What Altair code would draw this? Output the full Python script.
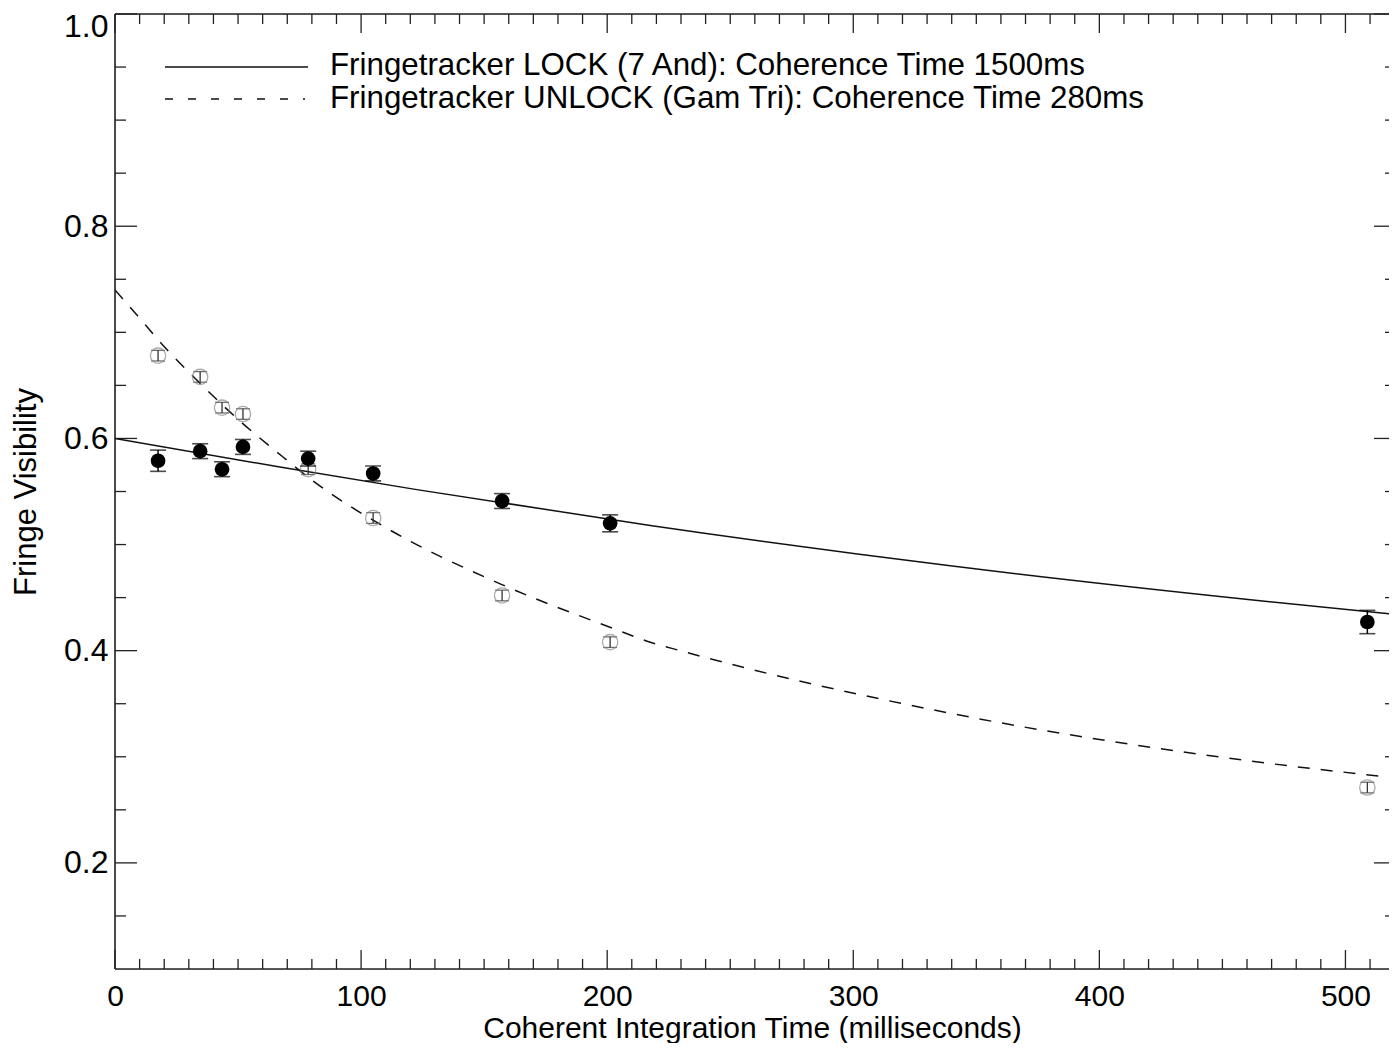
import altair as alt
import pandas as pd

# ---------------- data ----------------
time_ms = [17.5, 34.6, 43.5, 52.0, 78.5, 104.9, 157.3, 201.2, 508.9]

lock_vis = [0.579, 0.588, 0.571, 0.592, 0.581, 0.567, 0.541, 0.520, 0.427]
lock_err = [0.010, 0.007, 0.007, 0.007, 0.007, 0.007, 0.007, 0.008, 0.011]

unlock_vis = [0.678, 0.658, 0.629, 0.623, 0.571, 0.525, 0.452, 0.408, 0.271]
unlock_err = [0.005, 0.005, 0.005, 0.005, 0.005, 0.005, 0.005, 0.005, 0.005]

lock_fit_t = [0, 67, 122, 217.5, 339.4, 461.4, 521]
lock_fit_v = [0.600, 0.573, 0.552, 0.518, 0.480, 0.448, 0.434]

unlock_fit_t = [0, 9, 21, 35, 50, 68, 81, 110, 156.5, 202.4, 217.5, 229.7, 339.4, 461.4, 521]
unlock_fit_v = [0.740, 0.716, 0.684, 0.651, 0.618, 0.583, 0.559, 0.516, 0.463, 0.421, 0.408, 0.400, 0.341, 0.296, 0.280]

x_major = [0, 100, 200, 300, 400, 500]
x_minor = [t for t in range(10, 520, 10) if t % 100 != 0]
y_major = [0.2, 0.4, 0.6, 0.8, 1.0]
y_minor = [0.15, 0.25, 0.3, 0.35, 0.45, 0.5, 0.55, 0.65, 0.7, 0.75, 0.85, 0.9, 0.95]

legend_lock = "Fringetracker LOCK (7 And): Coherence Time 1500ms"
legend_unlock = "Fringetracker UNLOCK (Gam Tri): Coherence Time 280ms"

# ---------------- layout / style ----------------
W, H = 1274, 955
X_MAX = 517.7
FONT = "Liberation Sans"
xs = alt.Scale(domain=[0, X_MAX], nice=False, zero=False)
ys = alt.Scale(domain=[0.1, 1.0], nice=False, zero=False)

pts = pd.DataFrame({"t": time_ms, "lv": lock_vis, "le": lock_err,
                    "uv": unlock_vis, "ue": unlock_err})
lock_fit = pd.DataFrame({"t": lock_fit_t, "v": lock_fit_v})
unlock_fit = pd.DataFrame({"t": unlock_fit_t, "v": unlock_fit_v})

X = lambda f="t": alt.X(f"{f}:Q", scale=xs, axis=None)
Y = lambda f="v": alt.Y(f"{f}:Q", scale=ys, axis=None)

# main axes (labels + titles only)
axis_layer = alt.Chart(lock_fit).mark_line(opacity=0).encode(
    x=alt.X("t:Q", scale=xs, axis=alt.Axis(
        orient="bottom", labelFlush=False,
        values=x_major, format="d", domain=False, ticks=False, grid=False,
        labelFontSize=30, labelFont=FONT, labelColor="black", labelPadding=12,
        title="Coherent Integration Time (milliseconds)", titleFont=FONT,
        titleFontSize=30, titleFontWeight="normal", titleColor="black", titlePadding=2)),
    y=alt.Y("v:Q", scale=ys, axis=alt.Axis(
        orient="left", labelFlush=True, labelFlushOffset=3,
        values=y_major, format=".1f", domain=False, ticks=False, grid=False,
        labelFontSize=32, labelFont=FONT, labelColor="black", labelPadding=7,
        title="Fringe Visibility", titleFont=FONT, titleFontSize=31,
        titleFontWeight="normal", titleColor="black", titlePadding=21)),
)

lock_line = alt.Chart(lock_fit).mark_line(
    color="#111", strokeWidth=1.5, clip=True, interpolate="monotone"
).encode(x=X(), y=Y())
unlock_line = alt.Chart(unlock_fit).mark_line(
    color="#111", strokeWidth=1.5, strokeDash=[12, 11], clip=True, interpolate="monotone"
).encode(x=X(), y=Y())

base = alt.Chart(pts).transform_calculate(
    llo="datum.lv - datum.le", lhi="datum.lv + datum.le",
    ulo="datum.uv - datum.ue", uhi="datum.uv + datum.ue")

# open (UNLOCK) points
u_circ = base.mark_point(shape="circle", filled=False, size=235,
                         stroke="#888", strokeWidth=1.3).encode(x=X(), y=Y("uv"))
u_bar = base.mark_rule(color="#333", strokeWidth=1.3).encode(
    x=X(), y=Y("ulo"), y2="uhi:Q")
u_cap1 = base.mark_tick(orient="horizontal", size=14, thickness=1.3, color="#333").encode(
    x=X(), y=Y("ulo"))
u_cap2 = base.mark_tick(orient="horizontal", size=14, thickness=1.3, color="#333").encode(
    x=X(), y=Y("uhi"))

# filled (LOCK) points
l_bar = base.mark_rule(color="black", strokeWidth=1.5).encode(
    x=X(), y=Y("llo"), y2="lhi:Q")
l_cap1 = base.mark_tick(orient="horizontal", size=16, thickness=1.6, color="black").encode(
    x=X(), y=Y("llo"))
l_cap2 = base.mark_tick(orient="horizontal", size=16, thickness=1.6, color="black").encode(
    x=X(), y=Y("lhi"))
l_dot = base.mark_circle(size=215, color="black", opacity=1).encode(x=X(), y=Y("lv"))

# frame (left, top, bottom; right edge is cut off in the reference)
one = pd.DataFrame({"k": [0]})
frame_col = "#222"
frame = [
    alt.Chart(one).mark_rule(color=frame_col, strokeWidth=1.6).encode(
        x=alt.value(0), y=alt.value(0), y2=alt.value(H)),
    alt.Chart(one).mark_rule(color=frame_col, strokeWidth=1.6).encode(
        x=alt.value(0), x2=alt.value(W), y=alt.value(0)),
    alt.Chart(one).mark_rule(color=frame_col, strokeWidth=1.6).encode(
        x=alt.value(0), x2=alt.value(W), y=alt.value(H)),
]

xmaj = pd.DataFrame({"t": x_major})
xmin = pd.DataFrame({"t": x_minor})
ymaj = pd.DataFrame({"v": y_major})
ymin = pd.DataFrame({"v": y_minor})
tk = dict(color=frame_col, strokeWidth=1.3)
ticks = [
    alt.Chart(xmaj).mark_rule(**tk).encode(x=X(), y=alt.value(H), y2=alt.value(H - 19)),
    alt.Chart(xmin).mark_rule(**tk).encode(x=X(), y=alt.value(H), y2=alt.value(H - 10)),
    alt.Chart(xmaj).mark_rule(**tk).encode(x=X(), y=alt.value(0), y2=alt.value(19)),
    alt.Chart(xmin).mark_rule(**tk).encode(x=X(), y=alt.value(0), y2=alt.value(10)),
    alt.Chart(ymaj).mark_rule(**tk).encode(y=Y(), x=alt.value(0), x2=alt.value(22)),
    alt.Chart(ymin).mark_rule(**tk).encode(y=Y(), x=alt.value(0), x2=alt.value(11)),
    alt.Chart(ymaj).mark_rule(**tk).encode(y=Y(), x=alt.value(W), x2=alt.value(W - 15)),
    alt.Chart(ymin).mark_rule(**tk).encode(y=Y(), x=alt.value(W), x2=alt.value(W - 4)),
]

# legend
leg = [
    alt.Chart(one).mark_rule(color="#111", strokeWidth=1.5).encode(
        x=alt.value(50), x2=alt.value(193), y=alt.value(53)),
    alt.Chart(one).mark_rule(color="#111", strokeWidth=1.5, strokeDash=[8, 15]).encode(
        x=alt.value(50), x2=alt.value(190), y=alt.value(85)),
    alt.Chart(one).mark_text(align="left", baseline="alphabetic", font=FONT,
                             fontSize=31.3, color="black").encode(
        x=alt.value(215), y=alt.value(61), text=alt.value(legend_lock)),
    alt.Chart(one).mark_text(align="left", baseline="alphabetic", font=FONT,
                             fontSize=31.3, color="black").encode(
        x=alt.value(215), y=alt.value(94), text=alt.value(legend_unlock)),
]

chart = alt.layer(
    axis_layer, *frame, *ticks, lock_line, unlock_line,
    u_bar, u_cap1, u_cap2, u_circ, l_bar, l_cap1, l_cap2, l_dot, *leg
).resolve_axis(x="independent", y="independent").properties(
    width=W, height=H,
    autosize=alt.AutoSizeParams(type="none"),
    padding={"left": 107, "top": 6, "right": 0, "bottom": 74},
).configure_view(stroke=None).configure(background="white")

chart.save("out.html", embed_options={"renderer": "svg", "actions": False})
